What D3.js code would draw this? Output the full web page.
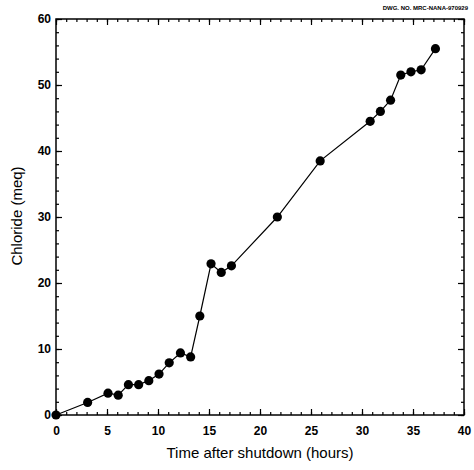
<!DOCTYPE html>
<html lang="en">
<head>
<meta charset="UTF-8">
<title>Chloride vs time after shutdown</title>
<style>
    body {
        margin: 0;
        background: #fff;
        font-family: "Liberation Sans", Arial, sans-serif;
    }
    .tick text {
        font-size: 12px;
        font-weight: bold;
    }
</style>
</head>
<body>
<svg id="chart" width="474" height="470"></svg>
<script src="https://d3js.org/d3.v7.min.js"></script>
<script>
// hours after shutdown and measured chloride (meq)
const hours = [0, 3.1, 5.1, 6.1, 7.1, 8.1, 9.1, 10.1, 11.1, 12.2, 13.2, 14.1, 15.2, 16.2, 17.2,
    21.7, 25.9, 30.8, 31.8, 32.8, 33.8, 34.8, 35.8, 37.2];
const chloride = [0, 1.9, 3.3, 3.0, 4.6, 4.6, 5.2, 6.2, 7.9, 9.4, 8.8, 15.0, 22.9, 21.6, 22.6,
    30.0, 38.5, 44.5, 46.0, 47.7, 51.5, 52.0, 52.3, 55.5];
const xTicks = [0, 5, 10, 15, 20, 25, 30, 35, 40];
const yTicks = [0, 10, 20, 30, 40, 50, 60];

const svg = d3.select("#chart");
const plotL = 56, plotR = 464, plotT = 19, plotB = 415;

const x = d3.scaleLinear().domain([0, 40]).range([plotL, plotR]);
const y = d3.scaleLinear().domain([0, 60]).range([plotB, plotT]);

// minor ticks (inside the frame, on all four sides)
const xMinor = d3.range(0, 41, 1);
const yMinor = d3.range(0, 61, 2);

const g = svg.append("g");

function tickSet(axis, tr, vals, size) {
    g.append("g")
        .attr("transform", tr)
        .call(axis.tickValues(vals).tickSize(size).tickFormat(""))
        .call(s => s.select(".domain").remove())
        .selectAll("line").attr("stroke", "#000").attr("stroke-width", 1.2);
}

tickSet(d3.axisTop(x), `translate(0,${plotB})`, xMinor, 3);
tickSet(d3.axisTop(x), `translate(0,${plotB})`, xTicks, 6);
tickSet(d3.axisBottom(x), `translate(0,${plotT})`, xMinor, 3);
tickSet(d3.axisBottom(x), `translate(0,${plotT})`, xTicks, 6);
tickSet(d3.axisRight(y), `translate(${plotL},0)`, yMinor, 3);
tickSet(d3.axisRight(y), `translate(${plotL},0)`, yTicks, 6);
tickSet(d3.axisLeft(y), `translate(${plotR},0)`, yMinor, 3);
tickSet(d3.axisLeft(y), `translate(${plotR},0)`, yTicks, 6);

// tick labels
g.append("g")
    .attr("transform", `translate(0,${plotB})`)
    .call(d3.axisBottom(x).tickValues(xTicks).tickSize(0).tickPadding(11))
    .call(s => s.select(".domain").remove())
    .selectAll("text").attr("fill", "#000");

g.append("g")
    .attr("transform", `translate(${plotL},0)`)
    .call(d3.axisLeft(y).tickValues(yTicks).tickSize(0).tickPadding(5))
    .call(s => s.select(".domain").remove())
    .selectAll("text").attr("fill", "#000");

// frame
svg.append("rect")
    .attr("x", plotL).attr("y", plotT)
    .attr("width", plotR - plotL).attr("height", plotB - plotT)
    .attr("fill", "none").attr("stroke", "#000").attr("stroke-width", 1.5);

// data line + markers
const pts = hours.map((h, i) => [h, chloride[i]]);
svg.append("path")
    .datum(pts)
    .attr("fill", "none")
    .attr("stroke", "#000")
    .attr("stroke-width", 1.2)
    .attr("d", d3.line().x(d => x(d[0])).y(d => y(d[1])));

svg.append("g").selectAll("circle")
    .data(pts)
    .join("circle")
    .attr("cx", d => x(d[0]))
    .attr("cy", d => y(d[1]))
    .attr("r", 4.6)
    .attr("fill", "#000");

// titles
svg.append("text")
    .attr("x", 260).attr("y", 458)
    .attr("text-anchor", "middle")
    .attr("font-size", 15)
    .text("Time after shutdown (hours)");

svg.append("text")
    .attr("transform", "translate(22,216) rotate(-90)")
    .attr("text-anchor", "middle")
    .attr("font-size", 15)
    .text("Chloride (meq)");

svg.append("text")
    .attr("x", 468).attr("y", 10)
    .attr("text-anchor", "end")
    .attr("font-size", 6)
    .attr("font-weight", "bold")
    .text("DWG. NO. MRC-NANA-970929");
</script>
</body>
</html>
